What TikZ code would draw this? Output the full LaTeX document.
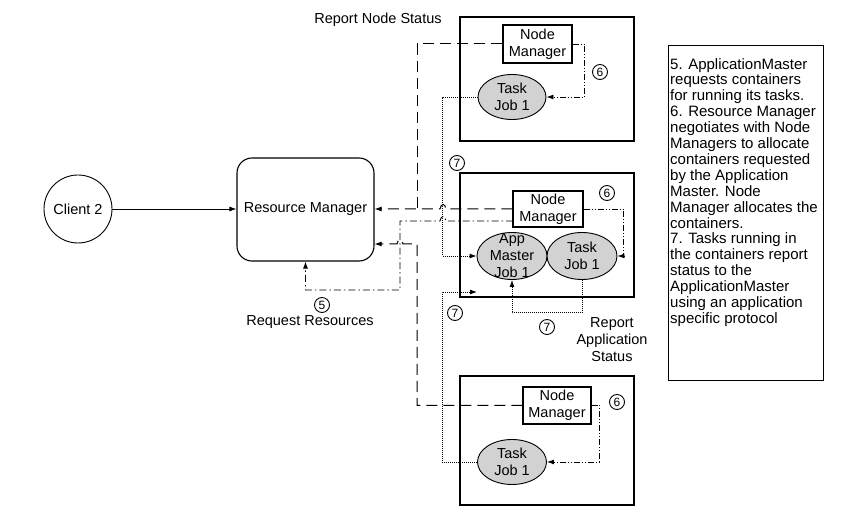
\documentclass[tikz,border=0pt]{standalone}
\usepackage{fontspec}
\setmainfont{Liberation Sans}
\usetikzlibrary{arrows.meta,shapes.geometric}

\begin{document}
\begin{tikzpicture}[x=1pt,y=-1pt,
  every node/.style={font=\fontsize{14.5}{17}\selectfont, align=center},
  container/.style={draw, line width=1.1pt, inner sep=0pt},
  manager/.style={draw, fill=white, line width=1.1pt, inner sep=0pt},
  task/.style={draw, ellipse, fill=gray!35, line width=0.9pt, inner sep=0pt},
  stepnum/.style={draw, circle, inner sep=0pt, minimum size=15pt, line width=0.9pt, font=\fontsize{12}{12}\selectfont},
  endtip/.style={-{Latex[length=7pt,width=5pt]}},
  status/.style={line width=1pt, dash pattern=on 11pt off 6pt},
  alloc/.style={line width=0.9pt, dash pattern=on 6pt off 2pt on 1pt off 2pt on 1pt off 2pt},
  request/.style={line width=0.9pt, dash pattern=on 7pt off 3pt on 1.5pt off 3pt},
  report/.style={line width=0.9pt, dash pattern=on 1pt off 1pt}]

\useasboundingbox (0,0) rectangle (855,521);

% client and resource manager
\node[draw, circle, minimum size=68pt, line width=0.9pt] (client) at (78,209) {Client 2};
\node[container, rounded corners=15pt, minimum width=137pt, minimum height=103pt] (rm) at (305.5,209.5) {Resource Manager};

% the three containers
\node[container, minimum width=174pt, minimum height=124pt] (topbox) at (547,79) {};
\node[container, minimum width=174pt, minimum height=124pt] (midbox) at (547,235) {};
\node[container, minimum width=174pt, minimum height=129pt] (botbox) at (547,440.5) {};

\node[manager, minimum width=69pt, minimum height=38pt] (topnm) at (537.5,44) {Node\\Manager};
\node[manager, minimum width=70pt, minimum height=36pt] (midnm) at (548,209) {Node\\Manager};
\node[manager, minimum width=68pt, minimum height=37pt] (botnm) at (557,405.5) {Node\\Manager};

\node[task, minimum width=68pt, minimum height=45pt] (toptask) at (512,97) {Task\\Job 1};
\node[task, minimum width=70pt, minimum height=47pt] (appmaster) at (512,256) {};
\node (amlabel) at (appmaster) {App\\Master\\Job 1};
\node[task, minimum width=70pt, minimum height=47pt] (midtask) at (582,256) {Task\\Job 1};
\node[task, minimum width=69pt, minimum height=45pt] (bottask) at (512,462) {Task\\Job 1};

% step numbers and labels
\node[stepnum] (sixtop) at (600,72) {6};
\node[stepnum] (sixmid) at (607,193) {6};
\node[stepnum] (sixbot) at (617,402) {6};
\node[stepnum] (seventop) at (457,163) {7};
\node[stepnum] (sevenbot) at (455,313) {7};
\node[stepnum] (sevenmid) at (547,327) {7};
\node[stepnum] (five) at (322,305) {5};
\node (nodestatus) at (378,20) {Report Node Status};
\node (reqres) at (310,322) {Request Resources};
\node (appstatus) at (612,340) {Report\\Application\\Status};

% notes
\node[container, minimum width=155pt, minimum height=335pt, anchor=north west] (notebox) at (668,45) {};
\node[anchor=north west, inner sep=0pt] (notes) at (670,58) {\parbox[t]{152pt}{\raggedright\fontsize{15}{15.9}\selectfont\lineskiplimit=-100pt\lineskip=0pt
5. ApplicationMaster\\requests containers\\for running its tasks.\\6. Resource Manager\\negotiates with Node\\Managers to allocate\\containers requested\\by the Application\\Master. Node\\Manager allocates the\\containers.\\7. Tasks running in\\the containers report\\status to the\\ApplicationMaster\\using an application\\specific protocol\par}};

% connectors
\coordinate (statusjoin) at (417,209);
\coordinate (botjoin) at (417,244);
\coordinate (reqstart) at (513,221);
\coordinate (amreport) at (477,292);

\draw[endtip, line width=0.9pt] (client.east) -- (rm.west |- client.east);

\draw[status, endtip] (midnm.west) -- (446,209) .. controls (445,203) and (441,203) .. (440,209) -- (rm.east |- midnm.west);
\draw[status] (topnm.west) -| (statusjoin);
\draw[status, endtip] (botnm.west) -| (botjoin) -- (403,244) .. controls (402,238) and (398,238) .. (397,244) -- (rm.east |- botjoin);

\draw[request, endtip] (reqstart) -- (446,221) .. controls (445,215) and (441,215) .. (440,221) -- (400,221) -- (400,290) -| (rm.south);

\draw[alloc, endtip] (topnm.east) -- ++(12,0) |- (toptask.east);
\draw[alloc, endtip] (midnm.east) -- ++(40,0) |- (midtask.east);
\draw[alloc, endtip] (botnm.east) -- ++(8,0) |- (bottask.east);

\draw[report, endtip] (toptask.west) -- ++(-35,0) |- (appmaster.west);
\draw[report, endtip] (bottask.west) -- ++(-35,0) |- (amreport);
\draw[report, endtip] (midtask.south) -- ++(0,33) -| (appmaster.south);
\end{tikzpicture}
\end{document}
